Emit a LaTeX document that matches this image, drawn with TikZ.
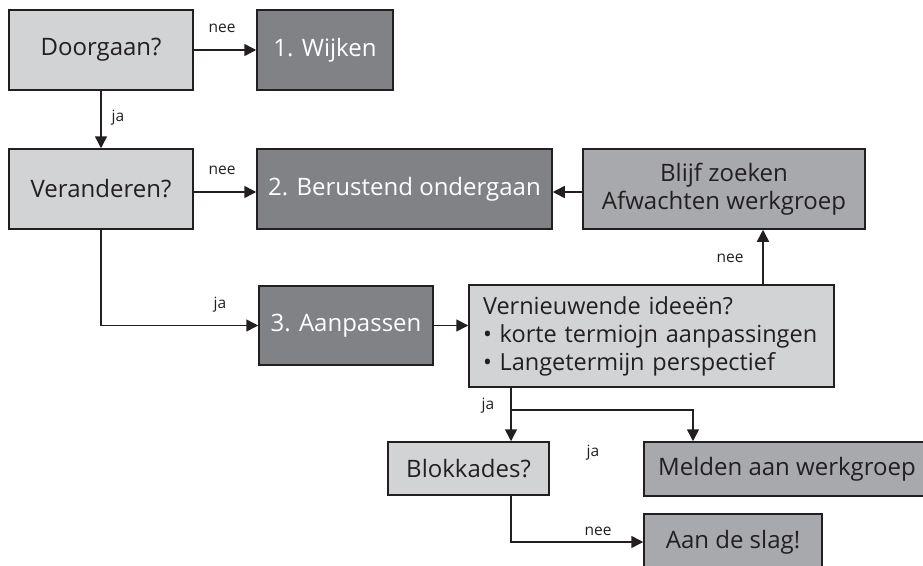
\documentclass[tikz,border=0pt]{standalone}
\usepackage{fontspec}
\setmainfont{Open Sans}
\usetikzlibrary{arrows.meta,calc}
\definecolor{lightbox}{HTML}{D1D3D4}
\definecolor{darkbox}{HTML}{808285}
\definecolor{midbox}{HTML}{A7A9AC}
\definecolor{ink}{HTML}{231F20}
\tikzset{
  box/.style={draw=ink, line width=1.5pt, inner sep=0pt, font=\fontsize{24}{28}\selectfont, text=ink},
  lightb/.style={box, fill=lightbox},
  darkb/.style={box, fill=darkbox, text=white},
  midb/.style={box, fill=midbox},
  arr/.style={draw=ink, line width=1.5pt, -{Triangle[length=12pt,width=12pt]}},
  lbl/.style={font=\fontsize{15.5}{18}\selectfont, text=ink, inner sep=0pt}
}
\begin{document}
\begin{tikzpicture}[x=1pt,y=-1pt]
\useasboundingbox (0,0) rectangle (923,565);
\node[lightb, minimum width=184pt, minimum height=80pt] (doorgaan) at (101,50) {Doorgaan?};
\node[darkb, minimum width=136pt, minimum height=80pt] (wijken) at (325,50) {1. Wijken};
\node[lightb, minimum width=184pt, minimum height=80pt] (veranderen) at (101,189) {Veranderen?};
\node[darkb, minimum width=295pt, minimum height=80pt] (berustend) at (404.5,189) {2. Berustend ondergaan};
\node[midb, minimum width=282pt, minimum height=80pt, align=center] (blijf) at (724,189) {Blijf zoeken\\Afwachten werkgroep};
\node[darkb, minimum width=174pt, minimum height=79pt] (aanpassen) at (346,325.5) {3. Aanpassen};
\node[lightb, minimum width=365pt, minimum height=102pt, text width=351pt, inner xsep=7pt, align=left,
      font=\fontsize{23.5}{28}\selectfont] (vern) at (651.5,336)
  {\mbox{\hspace*{7pt}Vernieuwende ideeën?}\\\mbox{\hspace*{7pt}\textbullet\ korte termiojn aanpassingen}\\\mbox{\hspace*{7pt}\textbullet\ Langetermijn perspectief}};
\node[lightb, minimum width=161pt, minimum height=53pt] (blok) at (468.5,468.5) {Blokkades?};
\node[midb, minimum width=286pt, minimum height=54pt] (melden) at (787,469) {Melden aan werkgroep};
\node[midb, minimum width=178pt, minimum height=56pt] (slag) at (733,542) {Aan de slag!};

\coordinate (upx) at (763,0);
\coordinate (jx) at (511,0);
\coordinate (br) at (511,410);
\coordinate (mx) at (693,0);

\draw[arr] (doorgaan.east) -- (wijken.west);
\draw[arr] (doorgaan.south) -- (veranderen.north);
\draw[arr] (veranderen.east |- 0,192) -- (berustend.west |- 0,192);
\draw[arr] (blijf.west |- 0,192) -- (berustend.east |- 0,192);
\draw[arr] (veranderen.south) |- (aanpassen.west);
\draw[arr] (aanpassen.east) -- (aanpassen.east -| vern.west);
\draw[arr] (vern.north -| upx) -- (blijf.south -| upx);
\draw[arr] (vern.south -| jx) -- (blok.north -| jx);
\draw[arr] (br) -| (melden.north -| mx);
\draw[arr] (blok.south -| jx) |- (slag.west);

\node[lbl] (l1) at (222,28) {nee};
\node[lbl] (l2) at (118,118) {ja};
\node[lbl] (l3) at (222,170) {nee};
\node[lbl] (l4) at (220,305) {ja};
\node[lbl] (l5) at (730,258) {nee};
\node[lbl] (l6) at (488,406) {ja};
\node[lbl] (l7) at (593,453) {ja};
\node[lbl] (l8) at (598,531) {nee};
\end{tikzpicture}
\end{document}
